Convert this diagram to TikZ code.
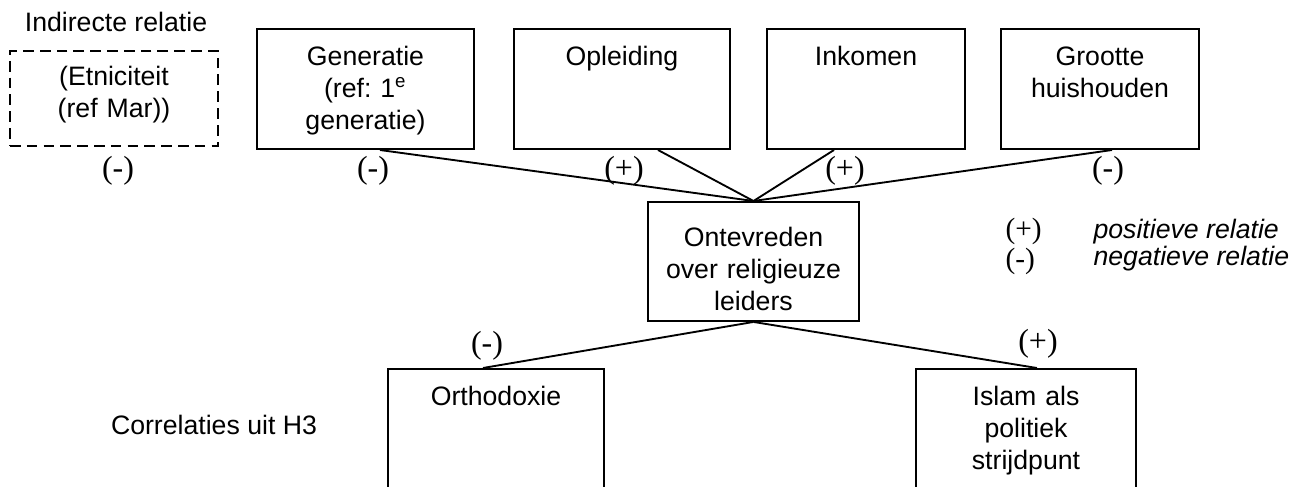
\documentclass[tikz,border=0pt]{standalone}
\usepackage{fontspec}
\setmainfont{Liberation Sans}
\newfontfamily\signfont{Liberation Serif}
\frenchspacing
\begin{document}
\begin{tikzpicture}[x=0.375pt, y=-0.375pt]
      \tikzstyle{box}=[draw, line width=0.75pt, align=center, inner sep=0pt, anchor=north, text height=13.5pt, text depth=31.5pt]
      \tikzstyle{sign}=[font=\signfont\fontsize{12}{14}\selectfont, inner sep=0pt, text height=8pt, text depth=2pt]
      \tikzstyle{link}=[line width=0.7pt]

      \useasboundingbox (0,0) rectangle (1312,486);
      \clip (0,0) rectangle (1312,486);

      % draw boxes
      \node [box, dash pattern=on 4pt off 2.3pt, text width=78pt, text height=13pt, text depth=22.6pt] (etn) at (114,50) {(Etniciteit\\(ref Mar))};

      \foreach \n/\x/\w/\l in {gen/365.5/81.4pt/{Generatie\\(ref: 1\textsuperscript{e}\\generatie)}, opl/622/81pt/Opleiding, ink/866/74.25pt/Inkomen, gro/1100/74.25pt/{Grootte\\huishouden}}
      \node [box, text width=\w] (\n) at (\x,28) {\l};

      \node [box, text width=79.1pt, text height=16.5pt, text depth=28.1pt] (ont) at (753.5,201) {Ontevreden\\over religieuze\\leiders};

      \node [box, text width=81pt, text depth=45pt] (ort) at (496,368) {Orthodoxie};
      \node [box, text width=82.5pt, text depth=45pt] (isl) at (1026,368) {Islam als\\politiek\\strijdpunt};

      % draw text
      \node (indirect) at (116,22) {Indirecte relatie};
      \node (corr) at (214,425) {Correlaties uit H3};

      \node [sign, anchor=west, font=\signfont\fontsize{11}{13}\selectfont] (leg-pos) at (1005,230) {(+)};
      \node [sign, anchor=west, font=\signfont\fontsize{11}{13}\selectfont] (leg-neg) at (1005,260) {(-)};
      \node [anchor=west, inner sep=0pt, font=\itshape] (leg-pos-text) at (1093,232) {positieve relatie};
      \node [anchor=west, inner sep=0pt, font=\itshape] (leg-neg-text) at (1093,259) {negatieve relatie};

      % draw lines
      \foreach \n/\s in {gen/5.4pt, opl/13.5pt, ink/-12pt, gro/4.5pt}
      \draw [link] ([xshift=\s]\n.south) -- (ont.north);

      \draw [link] (ont.south) -- ([xshift=-4.9pt]ort.north);
      \draw [link] (ont.south) -- ([xshift=4.1pt]isl.north);

      % draw signs
      \foreach \s/\x/\y [count=\i] in {-/118/170, -/373/170, +/624/170, +/845/170, -/1108/170, -/487/345, +/1038/343}
      \node [sign] (sign-\i) at (\x,\y) {(\s)};

\end{tikzpicture}
\end{document}
